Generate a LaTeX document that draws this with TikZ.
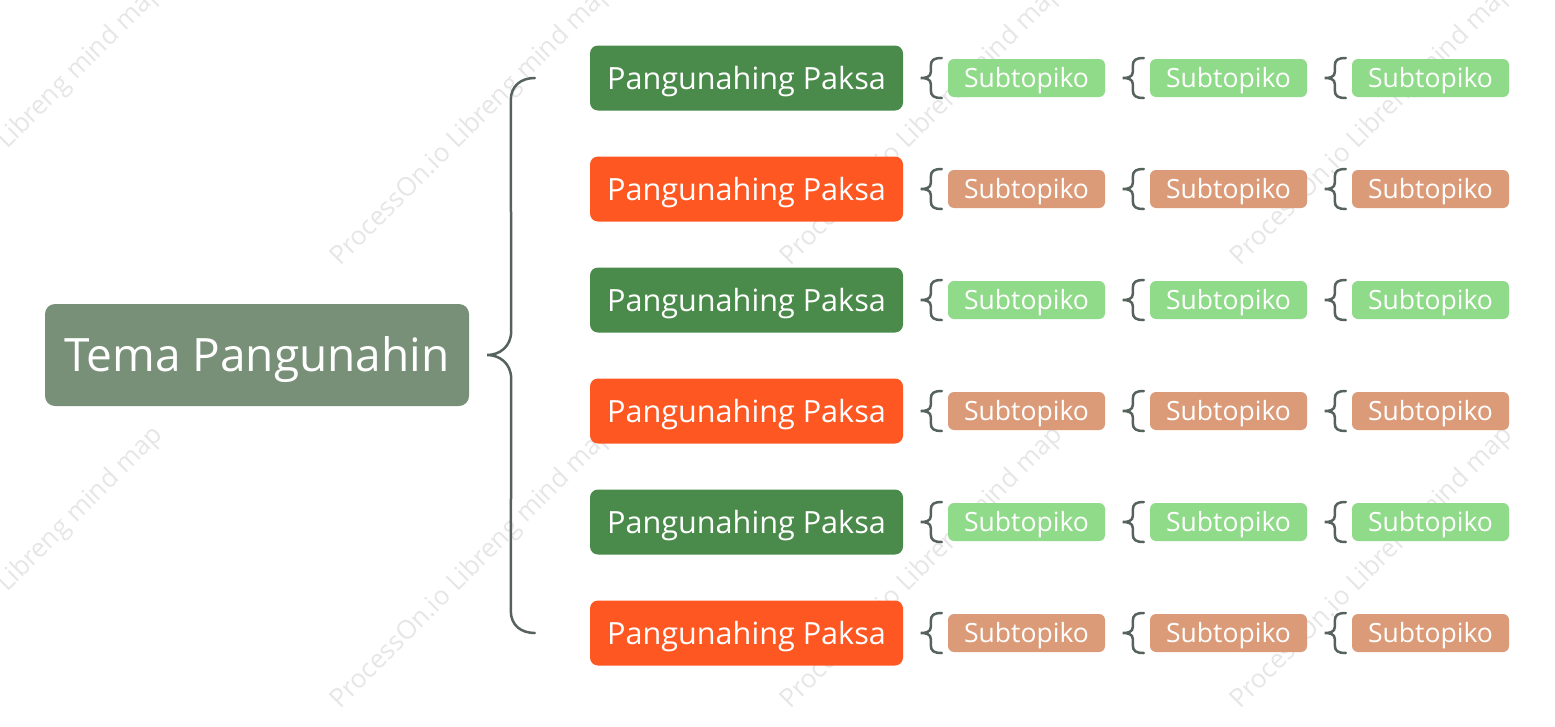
\documentclass[tikz,border=0pt]{standalone}
\usepackage{fontspec}
\setmainfont{Open Sans}
\usetikzlibrary{calc}
\definecolor{rootc}{HTML}{789078}
\definecolor{mg}{HTML}{4A8A4A}
\definecolor{mo}{HTML}{FF5722}
\definecolor{sg}{HTML}{90DB89}
\definecolor{so}{HTML}{DC9B78}
\definecolor{bracec}{HTML}{56625C}
\definecolor{wmc}{HTML}{E6E6E6}
\begin{document}
\begin{tikzpicture}[x=1pt,y=-1pt,
  rootbox/.style={rounded corners=10pt, fill=rootc, text=white, minimum width=424pt, minimum height=102pt, inner sep=0pt, text height=33pt, text depth=0pt, font=\fontsize{46}{52}\selectfont},
  mainbox/.style={rounded corners=8pt, text=white, minimum width=313pt, minimum height=65pt, inner sep=0pt, text height=22.5pt, text depth=0pt, font=\fontsize{30.6}{36}\selectfont},
  subbox/.style={rounded corners=6pt, text=white, minimum width=157pt, minimum height=38pt, inner sep=0pt, text height=19.5pt, text depth=0pt, font=\fontsize{26.5}{30}\selectfont},
  brace/.style={draw=bracec, line width=2.5pt, line cap=round},
  wm/.style={text=wmc, rotate=45, anchor=base west, inner sep=0pt, font=\fontsize{26}{30}\selectfont}]
\useasboundingbox (0,0) rectangle (1555,726);
% watermarks
\foreach \wx/\wy [count=\i] in {-110/267, 340/267, 790/267, 1240/267, -110/710, 340/710, 790/710, 1240/710}
  \node[wm] (wm\i) at (\wx,\wy) {ProcessOn.io Libreng mind map};
% root
\node[rootbox] (root) at (257,355) {Tema Pangunahin};
% rows
\foreach \r/\yy/\mc/\sc in {1/78/mg/sg, 2/189/mo/so, 3/300/mg/sg, 4/411/mo/so, 5/522/mg/sg, 6/633/mo/so} {
  \node[mainbox, fill=\mc] (m\r) at (746.5,\yy) {Pangunahing Paksa};
  \foreach \k/\xx in {1/1026.5, 2/1228.5, 3/1430.5} {
    \node[subbox, fill=\sc] (s\r\k) at (\xx,\yy) {Subtopiko};
    \draw[brace, shift={(s\r\k.west)}] (-6,-20) .. controls (-14,-20) and (-17,-18) .. (-17,-12)
      -- (-17,-6) .. controls (-17,-1) and (-22,0) .. (-27,0)
      .. controls (-22,0) and (-17,1) .. (-17,6)
      -- (-17,12) .. controls (-17,18) and (-14,20) .. (-6,20);
  }
}
% main brace
\coordinate (bt) at ([xshift=-55pt]m1.west);
\coordinate (bb) at ([xshift=-55pt]m6.west);
\coordinate (tip) at ([xshift=18pt]root.east);
\draw[brace] (bt) .. controls ($(bt)+(-14,0)$) and ($(bt)+(-24,8)$) .. ($(bt)+(-24,22)$)
  -- ($(tip)+(24,-24)$) .. controls ($(tip)+(24,-8)$) and ($(tip)+(12,0)$) .. (tip)
  .. controls ($(tip)+(12,0)$) and ($(tip)+(24,8)$) .. ($(tip)+(24,24)$)
  -- ($(bb)+(-24,-22)$) .. controls ($(bb)+(-24,-8)$) and ($(bb)+(-14,0)$) .. (bb);
\end{tikzpicture}
\end{document}
